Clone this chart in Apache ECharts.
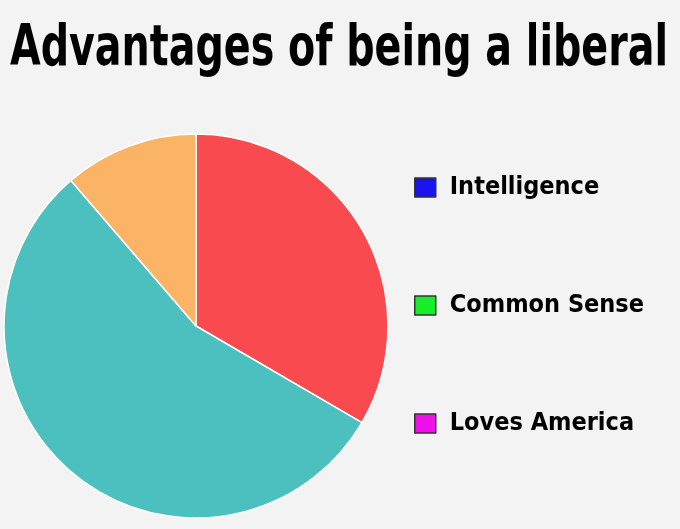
<!DOCTYPE html>
<html>
<head>
<meta charset="utf-8">
<script src="https://cdn.jsdelivr.net/npm/echarts@6/dist/echarts.min.js"></script>
<style>
  html, body { margin: 0; padding: 0; background: #f3f3f3; }
  #chart { width: 680px; height: 529px; }
</style>
</head>
<body>
<div id="chart"></div>
<script>
const titleText = 'Advantages of being a liberal'
const labels = ['Intelligence', 'Common Sense', 'Loves America']
const values = [33.4, 55.3, 11.3]
const sliceColors = ['#f94a50', '#4cc0bf', '#fbb466']
const legendColors = ['#1a14f0', '#16ee2a', '#f010ee']

const titleFont = 'bold 57px "DejaVu Sans Condensed", "DejaVu Sans", sans-serif'

// squeeze the title to the narrow width of the original heavy condensed font
const measure = document.createElement('canvas').getContext('2d')
measure.font = titleFont
const titleScale = 658 / measure.measureText(titleText).width

const chart = echarts.init(document.getElementById('chart'))

const option = {
  backgroundColor: '#f3f3f3',
  animation: false,
  graphic: [
    {
      type: 'text',
      x: 339,
      y: 50,
      scaleX: titleScale,
      style: {
        text: titleText,
        font: titleFont,
        fill: '#000',
        align: 'center',
        verticalAlign: 'middle',
      },
    },
  ],
  legend: {
    orient: 'vertical',
    left: 409,
    top: 170,
    itemWidth: 21,
    itemHeight: 19,
    itemGap: 93,
    icon: 'rect',
    selectedMode: false,
    textStyle: {
      fontFamily: '"DejaVu Sans Condensed", "DejaVu Sans", sans-serif',
      fontWeight: 'bold',
      fontSize: 25,
      color: '#000',
      padding: [0, 0, 0, 9],
    },
    data: labels.map((name, i) => ({
      name,
      itemStyle: { color: legendColors[i], borderColor: '#333', borderWidth: 1.5 },
    })),
  },
  series: [
    {
      type: 'pie',
      center: [196, 326],
      radius: 192,
      startAngle: 90,
      clockwise: true,
      label: { show: false },
      labelLine: { show: false },
      emphasis: { disabled: true },
      itemStyle: { borderColor: '#ffffff', borderWidth: 1.5 },
      data: labels.map((name, i) => ({
        name,
        value: values[i],
        itemStyle: { color: sliceColors[i] },
      })),
    },
  ],
}

chart.setOption(option)
</script>
</body>
</html>
